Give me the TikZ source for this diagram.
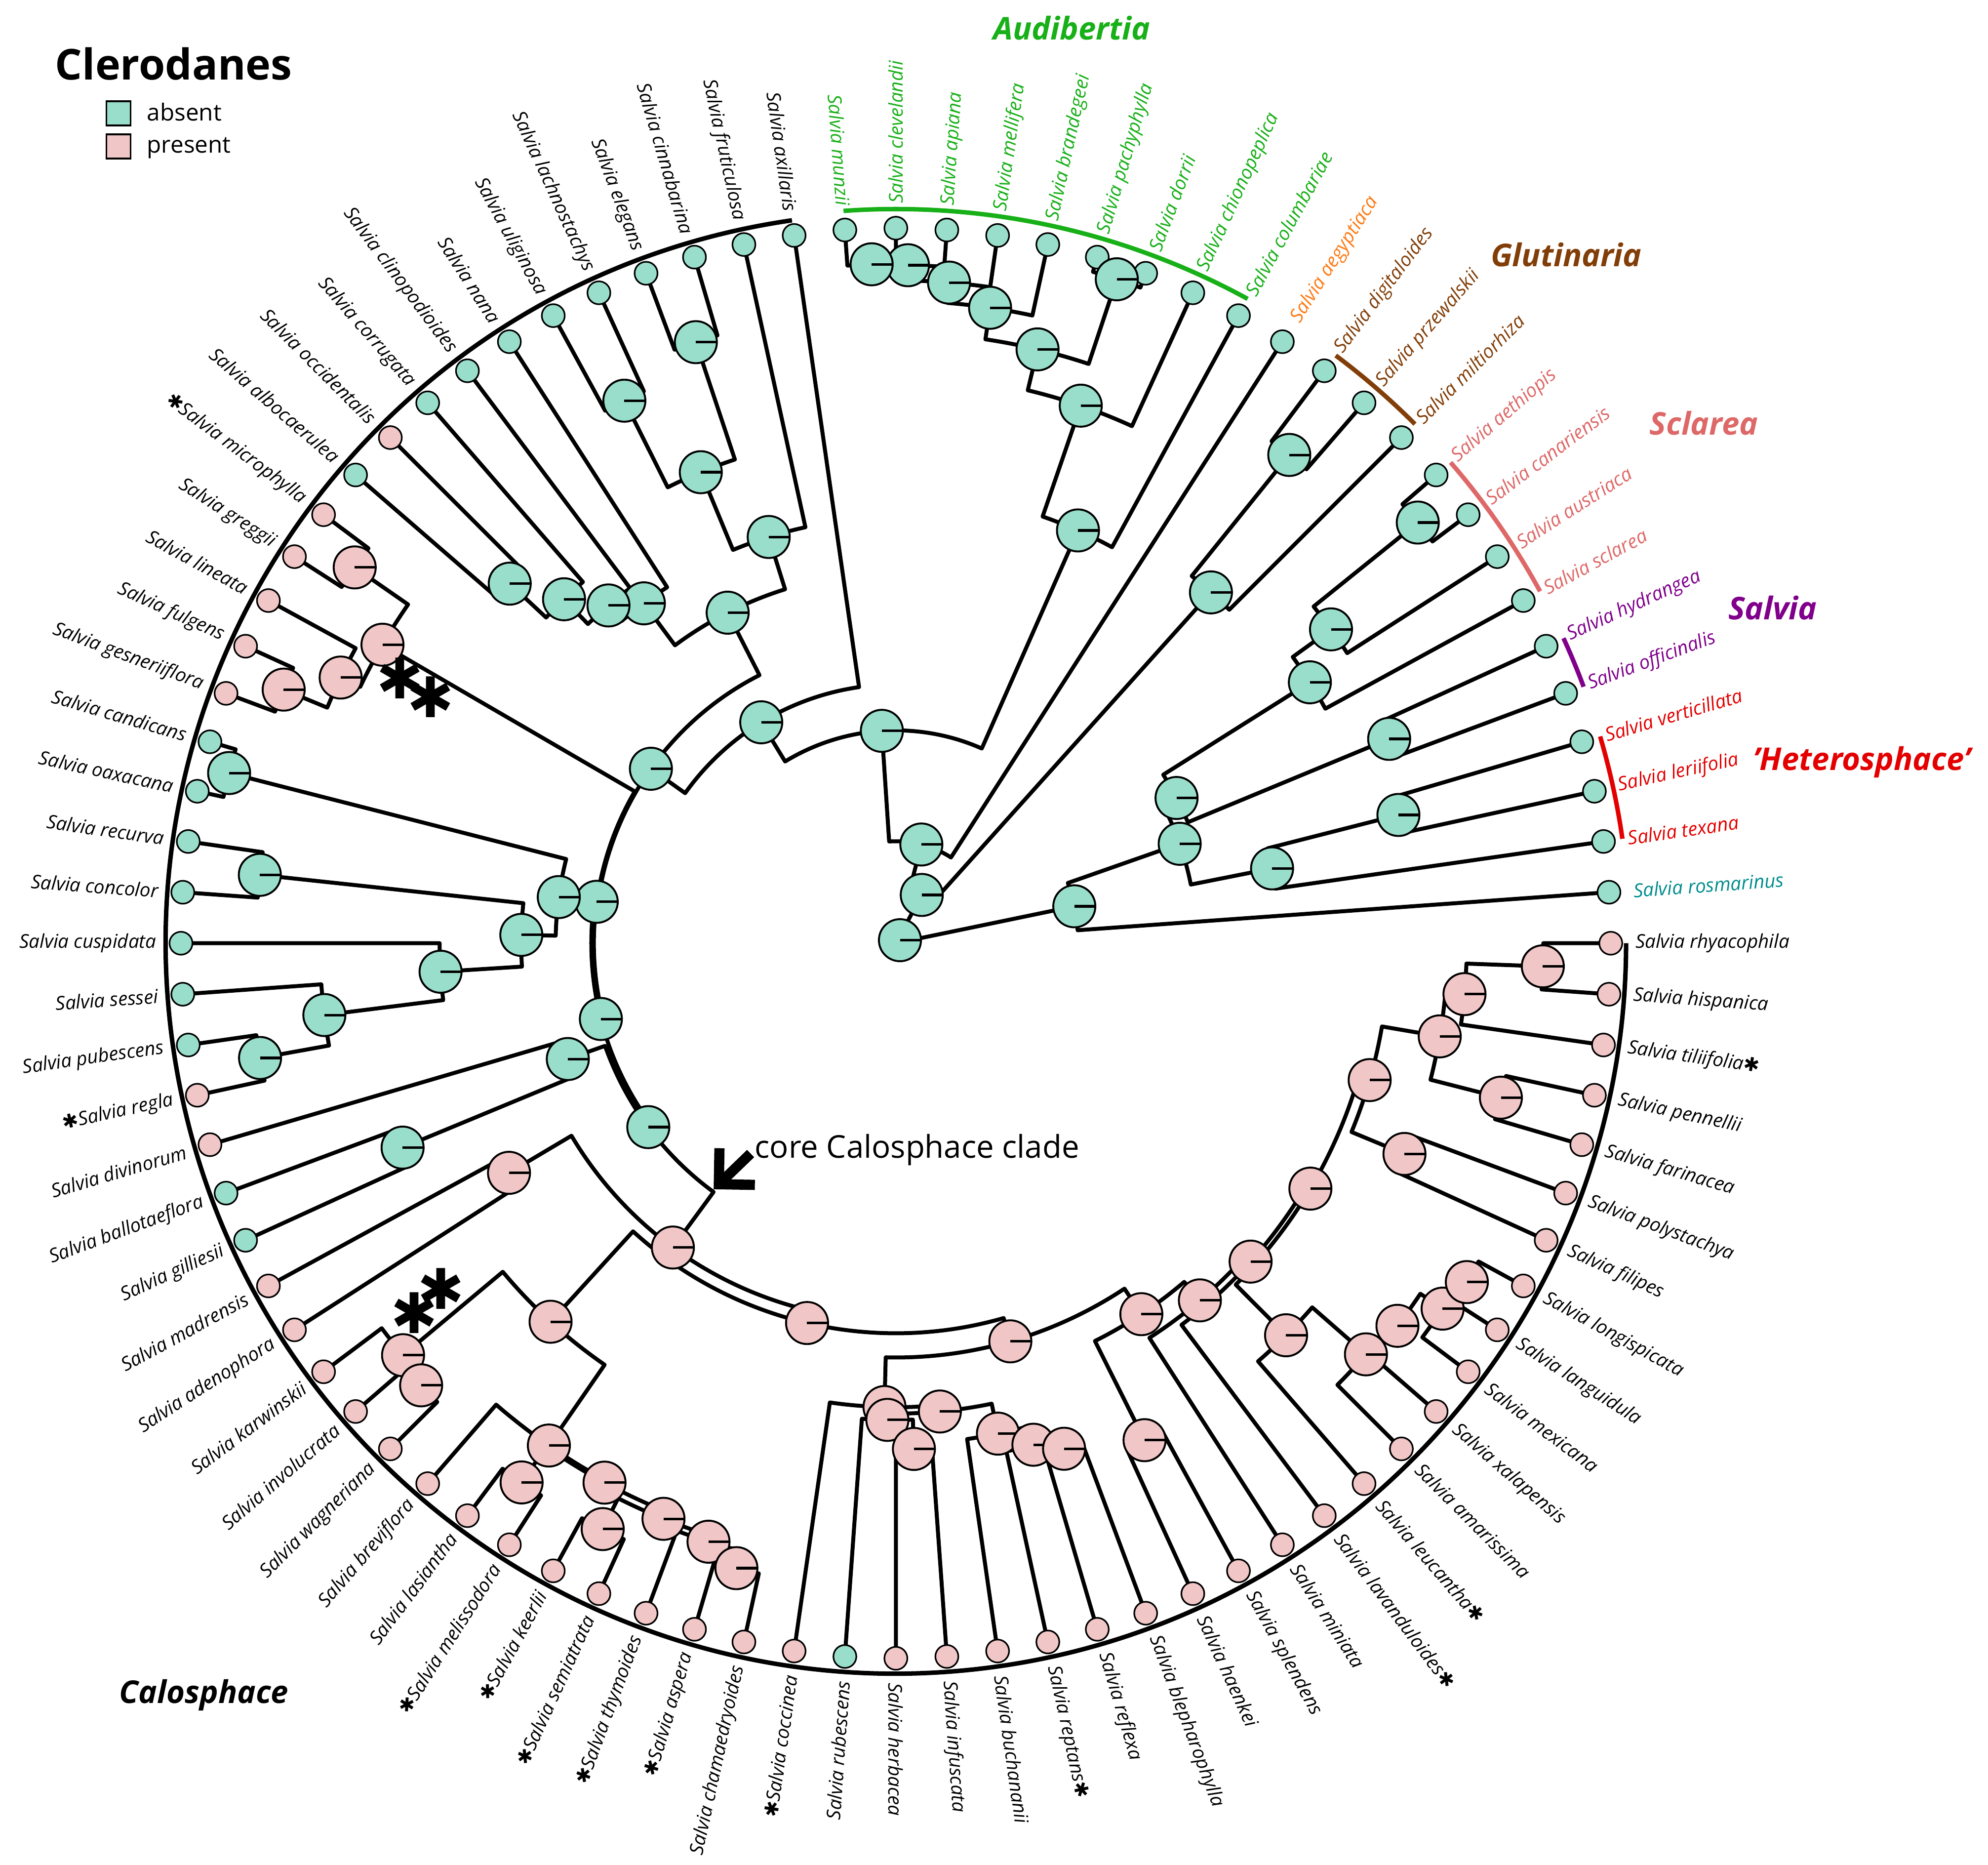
\documentclass[tikz,border=0pt]{standalone}
\usepackage{fontspec}
\setmainfont{Open Sans}
\newfontfamily\starfont{DejaVu Sans}
\usetikzlibrary{arrows.meta}
\definecolor{absent}{RGB}{152,222,202}
\definecolor{present}{RGB}{240,198,198}
\definecolor{audigreen}{RGB}{24,176,24}
\definecolor{aegyorange}{RGB}{255,122,20}
\definecolor{glutbrown}{RGB}{130,62,8}
\definecolor{sclareared}{RGB}{222,104,104}
\definecolor{salviapurple}{RGB}{128,0,140}
\definecolor{heterored}{RGB}{228,0,0}
\definecolor{rosmteal}{RGB}{0,140,140}
\tikzset{
  branch/.style={line width=0.62mm, line join=round},
  tipnode/.style={circle, draw=black, fill=#1, line width=0.25mm, minimum size=3.6mm, inner sep=0pt},
  pienode/.style={circle, draw=black, fill=#1, line width=0.3mm, minimum size=6.6mm, inner sep=0pt},
  pieline/.style={line width=0.4mm},
  taxon/.style={font=\fontsize{8.5}{10}\selectfont\itshape, inner sep=0pt, text=#1},
  cladebar/.style={line width=0.7mm, draw=#1},
  cladename/.style={font=\fontsize{14}{16}\selectfont\bfseries\itshape, text=#1},
  bigstar/.style={font=\starfont\fontsize{25}{25}\selectfont, inner sep=0pt},
  keybox/.style={draw=black, fill=#1, line width=0.3mm, minimum size=3.8mm, inner sep=0pt},
}
\newcommand\br[2]{\draw[branch] (#1) arc[start angle=\csname nang#1\endcsname, end angle=\csname nang#2\endcsname, radius=\csname nrad#1\endcsname*0.2mm] -- (#2);}
\def\tiplist{rosmarinus/absent/rosmteal/0, texana/absent/heterored/0, leriifolia/absent/heterored/0, verticillata/absent/heterored/0,
  officinalis/absent/salviapurple/0, hydrangea/absent/salviapurple/0, sclarea/absent/sclareared/0, austriaca/absent/sclareared/0,
  canariensis/absent/sclareared/0, aethiopis/absent/sclareared/0, miltiorhiza/absent/glutbrown/0, przewalskii/absent/glutbrown/0,
  digitaloides/absent/glutbrown/0, aegyptiaca/absent/aegyorange/0, columbariae/absent/audigreen/0, chionopeplica/absent/audigreen/0,
  dorrii/absent/audigreen/0, pachyphylla/absent/audigreen/0, brandegeei/absent/audigreen/0, mellifera/absent/audigreen/0,
  apiana/absent/audigreen/0, clevelandii/absent/audigreen/0, munzii/absent/audigreen/0, axillaris/absent/black/0,
  fruticulosa/absent/black/0, cinnabarina/absent/black/0, elegans/absent/black/0, lachnostachys/absent/black/0,
  uliginosa/absent/black/0, nana/absent/black/0, clinopodioides/absent/black/0, corrugata/absent/black/0,
  occidentalis/present/black/0, albocaerulea/absent/black/0, microphylla/present/black/1, greggii/present/black/0,
  lineata/present/black/0, fulgens/present/black/0, gesneriiflora/present/black/0, candicans/absent/black/0,
  oaxacana/absent/black/0, recurva/absent/black/0, concolor/absent/black/0, cuspidata/absent/black/0,
  sessei/absent/black/0, pubescens/absent/black/0, regla/present/black/1, divinorum/present/black/0,
  ballotaeflora/absent/black/0, gilliesii/absent/black/0, madrensis/present/black/0, adenophora/present/black/0,
  karwinskii/present/black/0, involucrata/present/black/0, wagneriana/present/black/0, breviflora/present/black/0,
  lasiantha/present/black/0, melissodora/present/black/1, keerlii/present/black/1, semiatrata/present/black/1,
  thymoides/present/black/1, aspera/present/black/1, chamaedryoides/present/black/0, coccinea/present/black/1,
  rubescens/absent/black/0, herbacea/present/black/0, infuscata/present/black/0, buchananii/present/black/0,
  reptans/present/black/1, reflexa/present/black/0, blepharophylla/present/black/0, haenkei/present/black/0,
  splendens/present/black/0, miniata/present/black/0, lavanduloides/present/black/1, leucantha/present/black/1,
  amarissima/present/black/0, xalapensis/present/black/0, mexicana/present/black/0, languidula/present/black/0,
  longispicata/present/black/0, filipes/present/black/0, polystachya/present/black/0, farinacea/present/black/0,
  pennellii/present/black/0, tiliifolia/present/black/1, hispanica/present/black/0, rhyacophila/present/black/0}
\def\nodelist{R/8.9826/4/absent, N1/15.1058/43/absent, N2/18.4616/80/absent, N3/22.9231/167/absent,
  N13/11.75/370/absent, N14/12.5/492/absent, B8/16.1797/354/absent, B7/17.3594/446/absent, B6/18.7188/479/absent,
  B5/17.5/549/absent, B4/19.9375/504/absent, B3/20.875/520/absent, B2/21.75/532/absent, B1/22.5/533/absent,
  Nros/2.8594/143/absent, N6/4.7188/236/absent, N5/6.6875/248/absent, N7/2.75/301/absent, N9/3.5/407/absent,
  N8/5.5/419/absent, N10/7.875/384/absent, N11/8.75/421/absent, N12/9.5/526/absent,
  A2/29.6665/203/absent, A1/35.333/236/absent, A3/28.5938/291/absent, A4/26.25/334/absent, A5/27.5/400/absent,
  A6/26.5/497/absent, A7/28.5/476/absent, A11/30.9375/332/absent, A10/31.875/348/absent, A9/32.75/375/absent,
  A8/33.5/414/absent, G4/42.0723/237/absent, P1/36.625/466/present, P2/35.5/517/present, P3/37.75/483/present,
  P4/38.5/520/present, G9/47.5196/239/absent, G3/42.0938/267/absent, G1/40.5/540/absent, G5/43.6875/294/absent,
  G2/42.5/502/absent, G6/44.875/358/absent, G7/45.75/452/absent, G8/46.5/507/absent, G12/52.9454/242/absent,
  G10/48.75/273/absent, G11/49.5/419/absent, Pc/57.1409/296/present, Q1/51.5/353/present, K1/62.7817/306/present,
  Q2/55.6406/402/present, Q3/53.75/504/present, Q4/54.5/509/present, Q5/57.5313/479/present, Q6/57.5/515/present,
  Q7/59.0625/481/present, Q8/59.5/514/present, Q9/60.625/487/present, Q10/61.75/492/present, Q11/62.5/506/present,
  K2/69.9229/325/present, K3a/65.6563/364/present, K3b/65.75/374/present, K4/66.5/397/present, K5/67.3125/369/present,
  K6/68.875/393/present, K7/69.75/408/present, K8/70.5/418/present, K9/74.1895/349/present, K10/72.5/436/present,
  K11/75.8789/368/present, K12/77.7578/374/present, K13/76.9688/434/present, K14/80.5156/378/present,
  K17/77.9375/490/present, K18/78.875/495/present, K19/79.75/516/present, M8/80.5/521/present,
  M5/84.0625/387/present, M6/82.5/432/present, M3/85.625/433/present, M4/84.5/490/present,
  M2/86.75/448/present, M1/87.5/508/present}
\def\edgelist{R/N1, R/Nros, N1/N2, N1/N13, N2/N3, N2/aegyptiaca, N3/A2, N3/B8, N13/N14, N13/miltiorhiza,
  N14/digitaloides, N14/przewalskii, B8/B7, B8/columbariae, B7/B6, B7/chionopeplica, B6/B4, B6/B5,
  B5/pachyphylla, B5/dorrii, B4/B3, B4/brandegeei, B3/B2, B3/mellifera, B2/B1, B2/apiana, B1/munzii, B1/clevelandii,
  Nros/N6, Nros/rosmarinus, N6/N5, N6/N7, N5/N10, N5/N8, N7/N9, N7/texana, N9/verticillata, N9/leriifolia,
  N8/hydrangea, N8/officinalis, N10/N11, N10/sclarea, N11/N12, N11/austriaca, N12/aethiopis, N12/canariensis,
  A2/axillaris, A2/A1, A1/A3, A1/G4, A3/A4, A3/A11, A4/fruticulosa, A4/A5, A5/A6, A5/A7,
  A6/cinnabarina, A6/elegans, A7/lachnostachys, A7/uliginosa, A11/nana, A11/A10, A10/clinopodioides, A10/A9,
  A9/corrugata, A9/A8, A8/occidentalis, A8/albocaerulea, G4/P1, G4/G9, P1/P2, P1/P3,
  P2/microphylla, P2/greggii, P3/lineata, P3/P4, P4/fulgens, P4/gesneriiflora, G9/G3, G9/G12,
  G3/G1, G3/G5, G1/candicans, G1/oaxacana, G5/G2, G5/G6, G2/recurva, G2/concolor, G6/cuspidata, G6/G7,
  G7/sessei, G7/G8, G8/pubescens, G8/regla, G12/G10, G12/Pc, G10/divinorum, G10/G11,
  G11/ballotaeflora, G11/gilliesii, Pc/Q1, Pc/K1, Q1/madrensis, Q1/adenophora, K1/Q2, K1/K2,
  Q2/Q3, Q2/Q5, Q3/karwinskii, Q3/Q4, Q4/involucrata, Q4/wagneriana, Q5/breviflora, Q5/Q7,
  Q7/Q6, Q7/Q9, Q6/lasiantha, Q6/melissodora, Q9/Q8, Q9/Q10, Q8/keerlii, Q8/semiatrata,
  Q10/thymoides, Q10/Q11, Q11/aspera, Q11/chamaedryoides, K2/K3a, K2/K9, K3a/coccinea, K3a/K5,
  K5/K3b, K5/K6, K3b/rubescens, K3b/K4, K4/herbacea, K4/infuscata, K6/buchananii, K6/K7,
  K7/reptans, K7/K8, K8/reflexa, K8/blepharophylla, K9/K10, K9/K11, K10/haenkei, K10/splendens,
  K11/miniata, K11/K12, K12/lavanduloides, K12/K14, K14/K13, K14/M5, K13/leucantha, K13/K17,
  K17/amarissima, K17/K18, K18/xalapensis, K18/K19, K19/mexicana, K19/M8, M8/languidula, M8/longispicata,
  M5/M3, M5/M6, M3/M2, M3/M4, M2/M1, M2/tiliifolia, M1/hispanica, M1/rhyacophila,
  M4/pennellii, M4/farinacea, M6/filipes, M6/polystachya}
\begin{document}
\begin{tikzpicture}[x=0.2mm, y=0.2mm]
\useasboundingbox (-703,-723) rectangle (857,740);
\foreach \tn/\tf/\tc/\ts [count=\j] in \tiplist {
  \pgfmathsetmacro\ta{\j*4.0909091}
  \coordinate (\tn) at (\ta:561);
  \expandafter\xdef\csname nang\tn\endcsname{\ta}
  \expandafter\xdef\csname nrad\tn\endcsname{561}
}
\foreach \nn/\nj/\nr/\nc in \nodelist {
  \pgfmathsetmacro\na{\nj*4.0909091}
  \coordinate (\nn) at (\na:\nr);
  \expandafter\xdef\csname nang\nn\endcsname{\na}
  \expandafter\xdef\csname nrad\nn\endcsname{\nr}
}
\foreach \p/\c in \edgelist {\br{\p}{\c}}
\draw[cladebar=black] (98.18:573) arc[start angle=98.18, end angle=360, radius=573*0.2mm];
\draw[cladebar=audigreen] (94.09:576) arc[start angle=94.09, end angle=61.36, radius=576*0.2mm];
\draw[cladebar=glutbrown] (53.18:576) arc[start angle=53.18, end angle=45, radius=576*0.2mm];
\draw[cladebar=sclareared] (40.91:576) arc[start angle=40.91, end angle=28.64, radius=576*0.2mm];
\draw[cladebar=salviapurple] (24.55:576) arc[start angle=24.55, end angle=20.45, radius=576*0.2mm];
\draw[cladebar=heterored] (16.36:576) arc[start angle=16.36, end angle=8.18, radius=576*0.2mm];
\foreach \tn/\tf/\tc/\ts [count=\j] in \tiplist {
  \pgfmathsetmacro\ta{\j*4.0909091}
  \node[tipnode=\tf] (t\tn) at (\tn) {};
  \ifnum\j<23
    \node[taxon=\tc, anchor=west, rotate=\ta] (l\tn) at (\ta:580) {Salvia \tn\ifnum\ts=1{\starfont ✱}\fi};
  \else\ifnum\j>65
    \node[taxon=\tc, anchor=west, rotate=\ta] (l\tn) at (\ta:580) {Salvia \tn\ifnum\ts=1{\starfont ✱}\fi};
  \else
    \node[taxon=\tc, anchor=east, rotate=\ta-180] (l\tn) at (\ta:580) {\ifnum\ts=1{\starfont ✱}\fi Salvia \tn};
  \fi\fi
}
\foreach \nn/\nj/\nr/\nc in \nodelist {
  \node[pienode=\nc] (p\nn) at (\nn) {};
  \draw[pieline] (\nn) -- ++(16,0);
}
\node[bigstar] (s1) at (-389,208) {✱};
\node[bigstar] (s2) at (-365,193) {✱};
\node[bigstar] (s3) at (-378,-290) {✱};
\node[bigstar] (s4) at (-357,-271) {✱};
\node[cladename=audigreen] (cAud) at (138,718) {Audibertia};
\node[cladename=glutbrown] (cGlu) at (526,540) {Glutinaria};
\node[cladename=sclareared] (cScl) at (634,408) {Sclarea};
\node[cladename=salviapurple] (cSal) at (688,263) {Salvia};
\node[cladename=heterored] (cHet) at (758,142) {'Heterosphace'};
\node[cladename=black] (cCal) at (-543,-590) {Calosphace};
\node[font=\fontsize{14}{16}\selectfont, anchor=west, inner sep=0pt] (core) at (-111,-162) {core Calosphace clade};
\coordinate (arrowtip) at (-143,-193);
\draw[line width=1.6mm, -{Straight Barb[length=4mm, width=8mm]}] (core.west) ++(-3,-3) -- (arrowtip);
\node[font=\fontsize{19}{22}\selectfont\bfseries, anchor=west, inner sep=0pt] (legtitle) at (-660,690) {Clerodanes};
\node[keybox=absent] (kabs) at (-610,651) {};
\node[keybox=present] (kpre) at (-610,625) {};
\node[font=\fontsize{10.5}{12}\selectfont, anchor=west, inner sep=0pt] (labs) at (-588,652) {absent};
\node[font=\fontsize{10.5}{12}\selectfont, anchor=west, inner sep=0pt] (lpre) at (-588,624) {present};
\end{tikzpicture}
\end{document}
